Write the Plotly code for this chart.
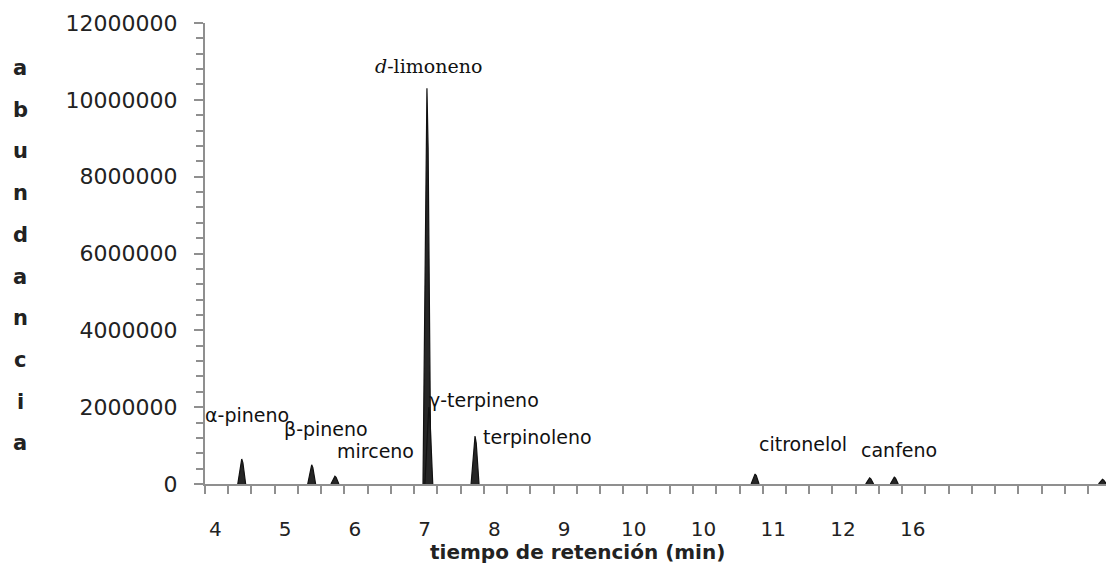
import plotly.graph_objects as go

# Chromatogram peaks: retention-axis position (category units) and abundance
peak_names = ["α-pineno", "β-pineno", "mirceno", "d-limoneno", "γ-terpineno",
              "terpinoleno", "citronelol", "canfeno", "canfeno_2", "final"]
peak_pos = [1.58, 4.59, 5.59, 9.55, 9.63, 11.62, 23.67, 28.60, 29.66, 38.62]
peak_abund = [650000, 500000, 200000, 10300000, 2000000,
              1250000, 260000, 160000, 180000, 120000]

# Category-axis tick labels
x_tick_pos = [0.45, 3.45, 6.45, 9.45, 12.45, 15.45, 18.45, 21.45, 24.45, 27.45, 30.45]
x_tick_text = ["4", "5", "6", "7", "8", "9", "10", "10", "11", "12", "16"]
y_tick_vals = [0, 2000000, 4000000, 6000000, 8000000, 10000000, 12000000]

# Peak labels (text, x, y anchor in data units)
label_text = ["α-pineno", "β-pineno", "mirceno", "<i>d</i>-limoneno", "γ-terpineno",
              "terpinoleno", "citronelol", "canfeno"]
label_pos = [(0.0, 1795000), (3.30, 1430000), (5.59, 860000), (7.23, 10870000),
             (9.55, 2185000), (11.88, 1230000), (23.74, 1040000), (28.13, 885000)]

HALF_BASE = 0.17
AXIS_GREY = "#8f8f8f"
# relative (half-width, height) profile of a peak outline, base to apex
PROFILE = [(1.0, 0.0), (0.6, 0.45), (0.3, 0.85), (0.0, 1.0)]

fig = go.Figure()
for name, c, h in zip(peak_names, peak_pos, peak_abund):
    left = [(c - HALF_BASE * w, h * f) for w, f in PROFILE]
    right = [(c + HALF_BASE * w, h * f) for w, f in reversed(PROFILE[:-1])]
    pts = left + right
    fig.add_trace(go.Scatter(
        x=[p[0] for p in pts],
        y=[p[1] for p in pts],
        mode="lines",
        fill="toself",
        fillcolor="#262626",
        line=dict(color="#111111", width=1.2),
        hoverinfo="skip",
        showlegend=False,
        name=name,
    ))

sans = "DejaVu Sans"
for txt, (lx, ly) in zip(label_text, label_pos):
    serif = "limoneno" in txt
    fig.add_annotation(
        x=lx, y=ly, xref="x", yref="y", text=txt, showarrow=False,
        xanchor="left", yanchor="middle", xshift=-2 if lx == 0.0 else 0,
        font=dict(family="DejaVu Serif" if serif else sans, size=19, color="#111111"),
    )

# Vertical stacked axis title
word = "abundancia"
top_px, step_px = 68, 41.7
for i, ch in enumerate(word):
    py = top_px + i * step_px
    fig.add_annotation(
        x=(20 - 205) / 901, y=(484 - py) / 461, xref="paper", yref="paper",
        text=f"<b>{ch}</b>", showarrow=False, xanchor="center", yanchor="middle",
        font=dict(family=sans, size=21, color="#222222"),
    )

fig.add_annotation(
    x=(577.5 - 205) / 901, y=(484 - 551.7) / 461, xref="paper", yref="paper",
    text="<b>tiempo de retención (min)</b>", showarrow=False,
    xanchor="center", yanchor="middle",
    font=dict(family=sans, size=20, color="#222222"),
)

fig.update_layout(
    width=1107, height=566,
    margin=dict(l=205, r=1, t=23, b=82),
    paper_bgcolor="white", plot_bgcolor="white",
    showlegend=False,
)
fig.update_xaxes(
    range=[0, 38.77], showgrid=False, zeroline=False,
    showline=True, linecolor=AXIS_GREY, linewidth=2,
    tickmode="array", tickvals=x_tick_pos, ticktext=x_tick_text,
    ticks="", ticklabelstandoff=26,
    tickfont=dict(family=sans, size=20, color="#222222"),
    minor=dict(tickmode="linear", tick0=0, dtick=1, ticks="outside",
               ticklen=8, tickcolor=AXIS_GREY, tickwidth=1.5, showgrid=False),
)
fig.update_yaxes(
    range=[0, 12000000], showgrid=False, zeroline=False,
    showline=True, linecolor=AXIS_GREY, linewidth=2,
    tickmode="array", tickvals=y_tick_vals,
    ticktext=[str(v) for v in y_tick_vals],
    ticks="outside", ticklen=9, tickcolor=AXIS_GREY, tickwidth=1.5,
    ticklabelstandoff=12,
    tickfont=dict(family=sans, size=22, color="#222222"),
    minor=dict(tickmode="linear", tick0=0, dtick=400000, ticks="outside",
               ticklen=7, tickcolor=AXIS_GREY, tickwidth=1.5, showgrid=False),
)

fig.write_html("out.html")
